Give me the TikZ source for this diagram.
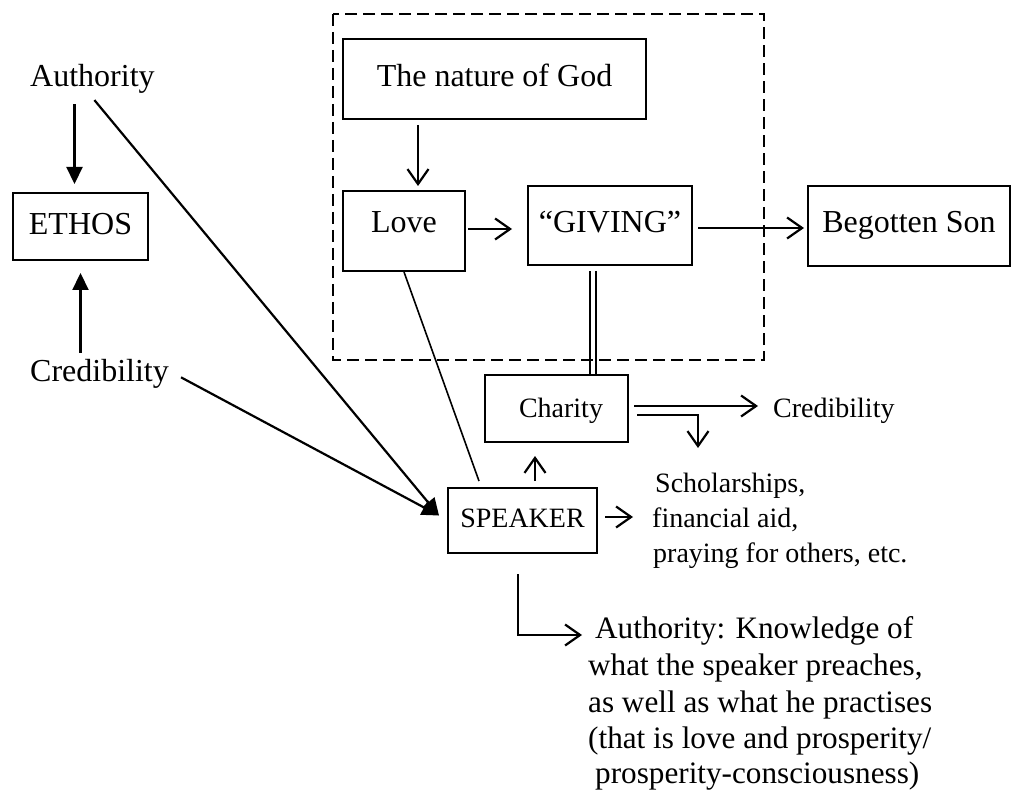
\documentclass[tikz,border=0pt]{standalone}
\usepackage{fontspec}
\setmainfont{Liberation Serif}
\usetikzlibrary{arrows.meta,calc}
\begin{document}
\begin{tikzpicture}[x=1pt,y=-1pt,
  font=\fontsize{32}{36}\selectfont,
  small/.style={font=\fontsize{28}{32}\selectfont},
  mid/.style={font=\fontsize{31.2}{36}\selectfont},
  box/.style={draw,line width=2pt,inner sep=0pt,anchor=base},
  lbl/.style={inner sep=0pt,anchor=base west},
  barb/.style={line width=2.2pt,-{Straight Barb[length=15pt,width=21pt,line width=2.2pt]}},
  tri/.style={line width=2.2pt,-{Triangle[length=17pt,width=16pt]}},
  thinline/.style={line width=1.6pt},
  dbl/.style={double,double distance=3.5pt,line width=1.8pt},
  frame/.style={line width=1.8pt,dash pattern=on 12pt off 6pt},
]
\useasboundingbox (0,0) rectangle (1014,791);

% left-hand column
\node[lbl] (auth) at (30,87) {Authority};
\node[box,minimum width=135pt,text height=42pt,text depth=25pt] (ethos) at (80.5,235) {ETHOS};
\node[lbl] (cred) at (30,381) {Credibility};

% boxes inside the dashed frame (placed on their text baselines)
\node[box,minimum width=303pt,text height=48pt,text depth=32pt] (god) at (494.5,87) {The nature of God\hspace{15pt}};
\node[box,minimum width=122pt,text height=42pt,text depth=38pt] (love) at (404,233) {Love};
\node[box,minimum width=164pt,text height=47pt,text depth=32pt] (giving) at (610,233) {``GIVING''\hspace{8pt}};
\node[box,minimum width=202pt,text height=47pt,text depth=33pt] (son) at (909,233) {Begotten Son};

% lower boxes
\node[box,small,minimum width=143pt,text height=42pt,text depth=25pt] (charity) at (556.5,417) {\hspace*{9pt}Charity};
\node[box,small,minimum width=149pt,text height=39pt,text depth=26pt] (speaker) at (522.5,527) {SPEAKER\hspace{7pt}};

% right-hand texts
\node[lbl,small] (cred2) at (773,417) {Credibility};
\node[lbl,small] (sch1) at (655,492) {Scholarships,};
\node[lbl,small] (sch2) at (652,527) {financial aid,};
\node[lbl,small] (sch3) at (653,562) {praying for others, etc.};

\node[lbl,mid] (au1) at (595,638) {Authority: Knowledge of};
\node[lbl,mid] (au2) at (588,675) {what the speaker preaches,};
\node[lbl,mid] (au3) at (588,712) {as well as what he practises};
\node[lbl,mid] (au4) at (588,748) {(that is love and prosperity/};
\node[lbl,mid] (au5) at (595,783) {prosperity-consciousness)};

\coordinate (spkin) at ([xshift=-8pt,yshift=5pt]speaker.west);
\coordinate (schin) at (698,448);

% connectors on the left
\draw[tri,shorten <=10pt,shorten >=8pt] ([xshift=-6pt]ethos.north |- auth.south) -- ([xshift=-6pt]ethos.north);
\draw[tri,shorten >=12pt] ([yshift=6pt]cred.north -| ethos.south) -- (ethos.south);
\draw[tri] ([xshift=2pt,yshift=-6pt]auth.south) -- (spkin);
\draw[tri] ([xshift=12pt,yshift=-4pt]cred.east) -- (spkin);

% connectors in the frame
\draw[barb,shorten <=5pt,shorten >=4pt] ([xshift=14pt]love.north |- god.south) -- ([xshift=14pt]love.north);
\draw[barb,shorten <=2pt,shorten >=15pt] ([yshift=2pt]love.east) -- ([yshift=2pt]love.east -| giving.west);
\draw[barb,shorten <=5pt,shorten >=3pt] ([yshift=-2.5pt]giving.east) -- ([yshift=-2.5pt]giving.east -| son.west);
\draw[dbl,shorten <=5pt] ([xshift=-17pt]giving.south) -- ([xshift=-17pt]giving.south |- charity.north);
\draw[thinline] (love.south) -- ([xshift=-43.5pt,yshift=6pt]speaker.north);

% dashed frame
\draw[frame] (333,14) rectangle (764,360);

% connectors around charity and speaker
\draw[barb,shorten <=5pt,shorten >=15pt] ([yshift=2.5pt]charity.east) -- ([yshift=2.5pt]charity.east -| cred2.west);
\draw[barb,shorten <=8pt] ([yshift=-6.5pt]charity.east) -| (schin);
\draw[barb,shorten <=6pt,shorten >=13pt] ([xshift=12.5pt]speaker.north) -- ([xshift=12.5pt]speaker.north |- charity.south);
\draw[barb,shorten <=7pt,shorten >=19pt] ([yshift=3.5pt]speaker.east) -- ([yshift=3.5pt]speaker.east -| sch2.west);
\draw[barb,shorten >=13pt] ([xshift=-4.5pt,yshift=-20pt]speaker.south) |- ([yshift=3pt]au1.base west);
\end{tikzpicture}
\end{document}
